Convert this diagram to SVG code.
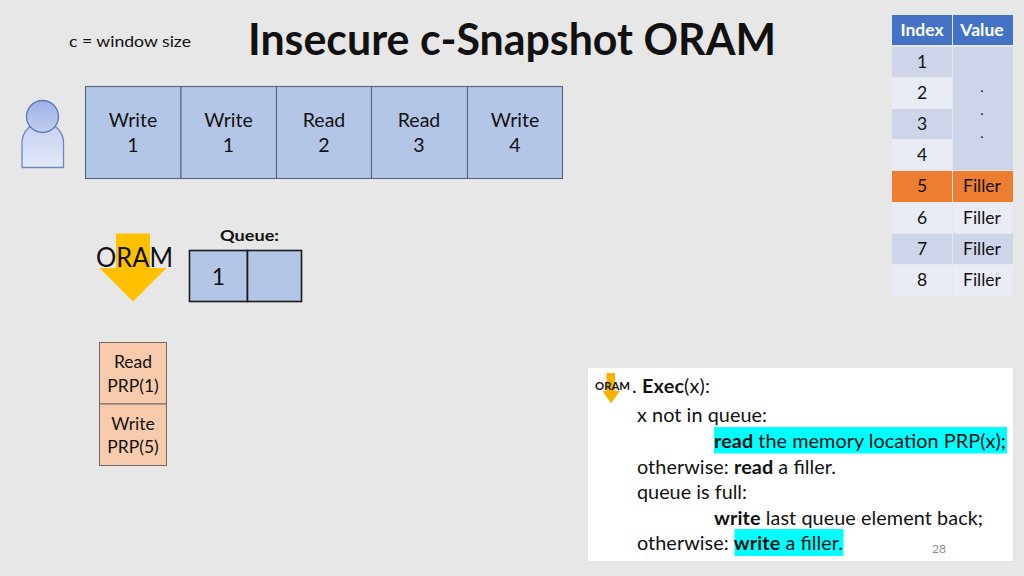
<svg xmlns="http://www.w3.org/2000/svg" width="1024" height="576" viewBox="0 0 1024 576">
<defs>
<linearGradient id="hd" x1="0" y1="0" x2="0" y2="1"><stop offset="0" stop-color="#9db0e6"/><stop offset="1" stop-color="#c3cff0"/></linearGradient>
<linearGradient id="bd" x1="0" y1="0" x2="0" y2="1"><stop offset="0" stop-color="#c5d1f1"/><stop offset="1" stop-color="#e4e9f9"/></linearGradient>
</defs>
<style>
text{font-family:"Lato","Carlito","Liberation Sans",sans-serif;fill:#111}
.c{text-anchor:middle}
.b{font-weight:700}
.cell{fill:#b4c6e7;stroke:#56657c;stroke-width:1.1}
.q{fill:#b4c6e7;stroke:#1a1a1a;stroke-width:1.6}
.t20{font-size:19.500px}
.t18{font-size:17.500px}
.p{fill:#f8cbad;stroke:#6b6b6b;stroke-width:1}
.code{font-size:19.800px}
.white{fill:#fff}
</style>
<rect width="1024" height="576" fill="#e7e7e7"/>
<text id="title" class="c b" x="512" y="55" font-size="43" textLength="528" lengthAdjust="spacingAndGlyphs">Insecure c-Snapshot ORAM</text>
<text id="window" x="69" y="47" font-size="15.500" textLength="122" lengthAdjust="spacingAndGlyphs">c = window size</text>

<g id="table">
<rect x="892" y="15" width="60" height="30" fill="#4472c4"/>
<rect x="953" y="15" width="60" height="30" fill="#4472c4"/>
<rect x="892" y="47" width="60" height="30" fill="#cfd5e8"/>
<rect x="892" y="78" width="60" height="30" fill="#e9ebf5"/>
<rect x="892" y="109" width="60" height="30" fill="#cfd5e8"/>
<rect x="892" y="140" width="60" height="30" fill="#e9ebf5"/>
<rect x="953" y="47" width="60" height="123" fill="#cfd5e8"/>
<rect x="892" y="171" width="60" height="31" fill="#ed7d31"/>
<rect x="953" y="171" width="60" height="31" fill="#ed7d31"/>
<rect x="892" y="203" width="60" height="30" fill="#e9ebf5"/>
<rect x="953" y="203" width="60" height="30" fill="#e9ebf5"/>
<rect x="892" y="234" width="60" height="30" fill="#cfd5e8"/>
<rect x="953" y="234" width="60" height="30" fill="#cfd5e8"/>
<rect x="892" y="265" width="60" height="31" fill="#e9ebf5"/>
<rect x="953" y="265" width="60" height="31" fill="#e9ebf5"/>
<g class="t18">
<text class="c b white" x="922" y="36">Index</text>
<text class="c b white" x="982" y="36">Value</text>
<text class="c" x="922" y="68">1</text>
<text class="c" x="922" y="99">2</text>
<text class="c" x="922" y="130">3</text>
<text class="c" x="922" y="161">4</text>
<text class="c" x="922" y="192">5</text>
<text class="c" x="922" y="224">6</text>
<text class="c" x="922" y="255">7</text>
<text class="c" x="922" y="286">8</text>
<text class="c" x="982" y="92" font-size="14">.</text>
<text class="c" x="982" y="115" font-size="14">.</text>
<text class="c" x="982" y="138" font-size="14">.</text>
<text class="c" x="982" y="192">Filler</text>
<text class="c" x="982" y="224">Filler</text>
<text class="c" x="982" y="255">Filler</text>
<text class="c" x="982" y="286">Filler</text>
</g>
</g>

<g id="user">
<path d="M22 167.500V143a20.500 20.500 0 0 1 41.500 0V167.500Z" fill="url(#bd)" stroke="#6f86c4" stroke-width="1.300"/>
<circle cx="42.500" cy="116.500" r="16" fill="url(#hd)" stroke="#5f78bb" stroke-width="1.300"/>
</g>

<g id="ops" class="t20">
<g id="op1"><rect class="cell" x="85.500" y="86.500" width="95.500" height="92"/><text class="c" x="133" y="127">Write</text><text class="c" x="133" y="152">1</text></g>
<g id="op2"><rect class="cell" x="181" y="86.500" width="95.500" height="92"/><text class="c" x="228.500" y="127">Write</text><text class="c" x="228.500" y="152">1</text></g>
<g id="op3"><rect class="cell" x="276.500" y="86.500" width="95" height="92"/><text class="c" x="324" y="127">Read</text><text class="c" x="324" y="152">2</text></g>
<g id="op4"><rect class="cell" x="371.500" y="86.500" width="96" height="92"/><text class="c" x="419" y="127">Read</text><text class="c" x="419" y="152">3</text></g>
<g id="op5"><rect class="cell" x="467.500" y="86.500" width="95" height="92"/><text class="c" x="515" y="127">Write</text><text class="c" x="515" y="152">4</text></g>
</g>

<g id="oram">
<path d="M116 233.500H150V268H166.500L133 301.500L99.500 268H116Z" fill="#ffc000"/>
<text class="c" x="134.500" y="267" font-size="27" textLength="77" lengthAdjust="spacingAndGlyphs">ORAM</text>
</g>

<g id="queue">
<text class="c b" x="249.500" y="241" font-size="16" textLength="59" lengthAdjust="spacingAndGlyphs">Queue:</text>
<rect class="q" x="189.500" y="250.500" width="58" height="51"/>
<rect class="q" x="247.500" y="250.500" width="54" height="51"/>
<text class="c" x="218.500" y="285" font-size="23">1</text>
</g>

<g id="prp" class="t18">
<g id="prp1"><rect class="p" x="99.500" y="342.500" width="67" height="61.500"/><text class="c" x="133" y="368">Read</text><text class="c" x="133" y="392">PRP(1)</text></g>
<g id="prp2"><rect class="p" x="99.500" y="404" width="67" height="61.500"/><text class="c" x="133" y="430">Write</text><text class="c" x="133" y="453">PRP(5)</text></g>
</g>

<g id="panel">
<rect x="588" y="368" width="425" height="193" fill="#fff"/>
<rect x="714" y="427" width="293" height="26.500" fill="#00ffff"/>
<rect x="734.500" y="529" width="109" height="27" fill="#00ffff"/>
<path d="M606.500 373H615V391H620L611 403.500L602.500 391H606.500Z" fill="#f4b400"/>
<text x="595" y="390" font-size="12" class="b" textLength="35" lengthAdjust="spacingAndGlyphs">ORAM</text>
<g class="code">
<text x="632" y="393" textLength="78">. <tspan class="b">Exec</tspan>(x):</text>
<text x="637" y="422" textLength="130">x not in queue:</text>
<text x="714" y="448" textLength="292"><tspan class="b">read</tspan> the memory location PRP(x);</text>
<text x="637" y="474" textLength="199"><tspan>otherwise: </tspan><tspan class="b">read</tspan> a filler.</text>
<text x="637" y="499" textLength="110">queue is full:</text>
<text x="714" y="525" textLength="269"><tspan class="b">write</tspan> last queue element back;</text>
<text x="637" y="550" textLength="206"><tspan>otherwise: </tspan><tspan class="b">write</tspan> a filler.</text>
</g>
<text class="c" x="939" y="553" font-size="12" style="fill:#8c8c8c">28</text>
</g>
</svg>
